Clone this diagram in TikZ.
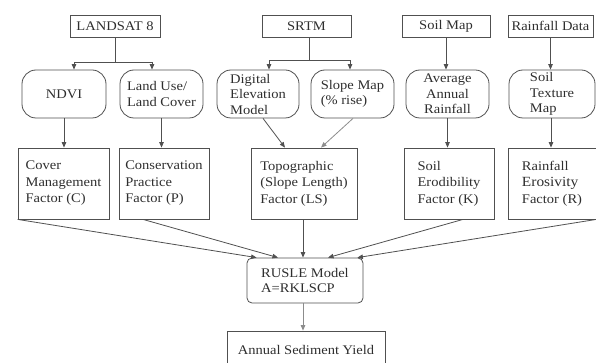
\documentclass[tikz,border=0pt]{standalone}
\usepackage{fontspec}
\setmainfont{Liberation Serif}[FakeStretch=1.1]
\usetikzlibrary{arrows.meta}
\definecolor{linec}{HTML}{505050}
\definecolor{lightline}{HTML}{8C8C8C}
\definecolor{txt}{HTML}{2E2E2E}
\begin{document}
\begin{tikzpicture}[x=1pt,y=-1pt,
  font=\fontsize{13.2}{15.5}\selectfont, text=txt,
  every node/.style={draw=linec, line width=0.8pt},
  srcbox/.style={minimum height=22pt, inner sep=1pt},
  procbox/.style={rounded corners=14pt, minimum height=48pt, inner ysep=0pt, inner xsep=2pt, align=left},
  facbox/.style={minimum height=71pt, inner xsep=2pt, align=left, font=\fontsize{13.2}{16.5}\selectfont},
  link/.style={draw=linec, line width=0.8pt},
  arr/.style={link, -{Triangle[length=5.5pt,width=4.5pt]}},
  faint/.style={arr, draw=lightline}]
\useasboundingbox (0,0) rectangle (596,363);

% data sources
\node[srcbox, minimum width=90pt] (l8)   at (115,26)   {LANDSAT 8};
\node[srcbox, minimum width=89pt] (srtm) at (306.5,26) {SRTM};
\node[srcbox, minimum width=88pt] (soil) at (446,26)   {Soil Map};
\node[srcbox, minimum width=85pt] (rain) at (550.5,26) {Rainfall Data};

% derived layers
\node[procbox, minimum width=84pt] (ndvi)  at (64,94)    {NDVI};
\node[procbox, minimum width=83pt] (lulc)  at (161.5,94) {Land Use/\\Land Cover};
\node[procbox, minimum width=82pt] (dem)   at (258,94)   {Digital\\Elevation\\Model};
\node[procbox, minimum width=83pt] (slope) at (352.5,94) {Slope Map\\(\% rise)};
\node[procbox, minimum width=83pt, align=center] (aar) at (447.5,94) {Average\\Annual\\Rainfall};
\node[procbox, minimum width=86pt] (stm)   at (552,94)   {Soil\\Texture\\Map};

% RUSLE factors
\node[facbox, minimum width=91pt]  (fc)  at (63.5,183.5) {Cover\\Management\\Factor (C)};
\node[facbox, minimum width=90pt]  (fp)  at (164,183.5)  {Conservation\\Practice\\Factor (P)};
\node[facbox, minimum width=106pt] (fls) at (304,183.5)  {Topographic\\(Slope Length)\\Factor (LS)};
\node[facbox, minimum width=90pt]  (fk)  at (449,183.5)  {Soil\\Erodibility\\Factor (K)};
\node[facbox, minimum width=88pt]  (fr)  at (552,183.5)  {Rainfall\\{\fontsize{14}{16.5}\selectfont Erosivity}\\Factor (R)};

% model and result
\node[rounded corners=5pt, minimum width=116pt, minimum height=45pt, align=left] (rusle) at (305,280.5) {RUSLE Model\\A=RKLSCP};
\node[minimum width=158pt, minimum height=37pt] (asy) at (306,349.5) {Annual Sediment Yield};

% source branches
\draw[link] (l8.south) -- ++(0,25) coordinate (j1);
\draw[arr] (j1) -| ([xshift=10pt]ndvi.north);
\draw[arr] (j1) -| ([xshift=-9.5pt]lulc.north);
\draw[link] ([xshift=2.5pt]srtm.south) -- ++(0,23) coordinate (j2);
\draw[arr] (j2) -| ([xshift=11pt]dem.north);
\draw[arr] (j2) -| ([xshift=-2.5pt]slope.north);
\draw[arr] (soil.south) -- (soil.south |- aar.north);
\draw[arr] (rain.south) -- (rain.south |- stm.north);

% layers to factors
\draw[arr] (ndvi.south) -- (ndvi.south |- fc.north);
\draw[arr] (lulc.south) -- (lulc.south |- fp.north);
\draw[arr] ([xshift=5pt]dem.south) -- ([xshift=-19pt]fls.north);
\draw[faint] ([xshift=0.5pt]slope.south) -- ([xshift=17pt]fls.north);
\draw[arr] (aar.south) -- (aar.south |- fk.north);
\draw[arr] ([xshift=-1pt]stm.south) -- ([xshift=-1pt]fr.north);

% factors to model
\draw[arr] (fc.south west) -- ([xshift=10pt]rusle.north west);
\draw[arr] ([xshift=-21pt]fp.south) -- ([xshift=-27pt]rusle.north);
\draw[arr] ([xshift=-1pt]fls.south) -- ([xshift=-2pt]rusle.north);
\draw[arr] ([xshift=14pt]fk.south) -- ([xshift=23pt]rusle.north);
\draw[arr] (fr.south east) -- ([xshift=-6pt]rusle.north east);

% model to result
\draw[faint] ([xshift=-2pt]rusle.south) -- ([xshift=-3pt]asy.north);
\end{tikzpicture}
\end{document}
